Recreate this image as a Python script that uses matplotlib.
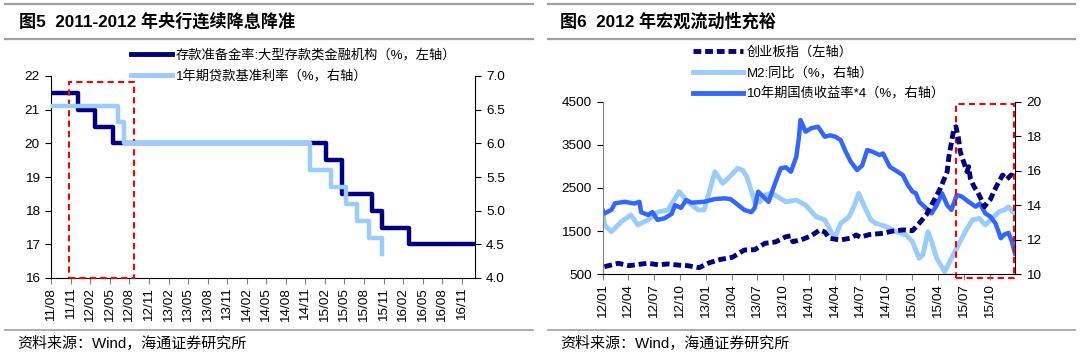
import pandas as pd
import matplotlib
matplotlib.use('Agg')
import matplotlib.pyplot as plt
import matplotlib.dates as mdates
from matplotlib.patches import Rectangle
from matplotlib.lines import Line2D

plt.rcParams['font.family'] = ['Liberation Sans', 'Noto Sans CJK SC']
plt.rcParams['axes.unicode_minus'] = False

NAVY = '#000080'
LIGHT = '#99CCFF'
BLUE = '#3366FF'
RED = '#FF0000'
GREY = '#A0A0A0'

# ---- 图5 data ----
rrr_dates = ['2011-08-01', '2011-12-05', '2012-02-24', '2012-05-18', '2015-02-05',
             '2015-04-20', '2015-09-06', '2015-10-24', '2016-03-01', '2017-01-01']
rrr_vals = [21.5, 21.0, 20.5, 20.0, 19.5, 18.5, 18.0, 17.5, 17.0, 17.0]
loan_dates = ['2011-08-01', '2012-06-08', '2012-07-06', '2014-11-22', '2015-03-01',
              '2015-05-11', '2015-06-28', '2015-08-26', '2015-10-24', '2015-10-26']
loan_vals = [6.56, 6.31, 6.00, 5.60, 5.35, 5.10, 4.85, 4.60, 4.35, 4.35]

# ---- 图6 data ----
cyb_dates = ['2012-01-07', '2012-02-25', '2012-04-04', '2012-05-07', '2012-06-10', '2012-07-16',
             '2012-08-19', '2012-09-22', '2012-10-28', '2012-12-07', '2013-01-13', '2013-02-22',
             '2013-04-04', '2013-05-16', '2013-06-22', '2013-07-28', '2013-09-04', '2013-10-10',
             '2013-10-28', '2013-11-04', '2013-12-04', '2014-01-07', '2014-02-07', '2014-02-25',
             '2014-03-13', '2014-04-22', '2014-05-28', '2014-06-16', '2014-07-01', '2014-08-01',
             '2014-09-19', '2014-10-22', '2014-12-01', '2015-01-01', '2015-01-25', '2015-02-19',
             '2015-03-16', '2015-04-10', '2015-05-04', '2015-05-10', '2015-05-28', '2015-06-04',
             '2015-06-13', '2015-06-19', '2015-07-01', '2015-07-13', '2015-07-19', '2015-07-25',
             '2015-08-07', '2015-08-19', '2015-08-25', '2015-09-13', '2015-09-22', '2015-10-04',
             '2015-10-16', '2015-10-28', '2015-11-16', '2015-12-01', '2015-12-16', '2015-12-30']
cyb_vals = [676, 755, 700, 730, 755, 720,
            740, 715, 700, 653, 770, 847,
            894, 1063, 1070, 1218, 1250, 1371,
            1390, 1255, 1300, 1390, 1526, 1480,
            1334, 1295, 1340, 1411, 1360, 1420,
            1450, 1500, 1530, 1510, 1682, 1874,
            2183, 2493, 2878, 3225, 3883, 3920,
            3652, 3342, 3110, 2878, 2994, 2725,
            2530, 2414, 2338, 2066, 2150, 2238,
            2414, 2570, 2801, 2700, 2800, 2750]

bond_dates = ['2012-01-01', '2012-01-07', '2012-02-01', '2012-02-13', '2012-03-19', '2012-04-22',
              '2012-05-10', '2012-05-16', '2012-06-10', '2012-06-25', '2012-07-13', '2012-08-07',
              '2012-09-01', '2012-09-13', '2012-10-04', '2012-10-22', '2012-11-10', '2012-12-25',
              '2013-02-01', '2013-03-07', '2013-03-28', '2013-04-10', '2013-05-16', '2013-06-10',
              '2013-06-22', '2013-07-04', '2013-08-10', '2013-09-04', '2013-09-22', '2013-10-10',
              '2013-10-28', '2013-11-16', '2013-11-25', '2013-12-01', '2013-12-19', '2014-01-07',
              '2014-02-01', '2014-02-25', '2014-03-16', '2014-04-04', '2014-04-22', '2014-05-10',
              '2014-05-28', '2014-06-19', '2014-07-07', '2014-07-25', '2014-08-13', '2014-09-07',
              '2014-09-19', '2014-10-13', '2014-11-04', '2014-11-28', '2014-12-16', '2015-01-01',
              '2015-01-13', '2015-01-25', '2015-02-19', '2015-03-10', '2015-03-28', '2015-04-16',
              '2015-05-04', '2015-05-19', '2015-06-07', '2015-06-25', '2015-07-19', '2015-08-13',
              '2015-08-28', '2015-09-16', '2015-10-04', '2015-10-22', '2015-11-10', '2015-11-22',
              '2015-12-07', '2015-12-19', '2015-12-30']
bond_vals = [13.70, 13.53, 13.73, 14.11, 14.20, 14.10,
             14.20, 13.60, 13.44, 13.60, 13.15, 13.25,
             13.50, 14.00, 13.85, 14.30, 14.15, 14.20,
             14.36, 14.40, 14.36, 14.20, 13.73, 13.60,
             13.85, 14.79, 14.20, 15.37, 16.14, 16.20,
             15.94, 16.81, 17.88, 18.94, 18.26, 18.46,
             18.55, 17.97, 18.05, 17.97, 17.78, 17.10,
             16.52, 16.04, 16.30, 17.20, 17.10, 16.91,
             17.00, 16.23, 16.00, 15.75, 15.17, 14.79,
             14.70, 14.20, 13.82, 13.53, 14.01, 14.69,
             14.00, 13.73, 14.60, 14.50, 14.20, 13.92,
             14.10, 13.53, 13.34, 12.95, 12.09, 12.30,
             12.40, 11.90, 11.20]

m2_dates = ['2012-01-01', '2012-01-07', '2012-02-01', '2012-03-07', '2012-04-10', '2012-05-04',
            '2012-06-10', '2012-07-13', '2012-08-19', '2012-09-28', '2012-10-28', '2012-12-04',
            '2012-12-25', '2013-02-01', '2013-03-01', '2013-03-28', '2013-04-22', '2013-05-10',
            '2013-05-25', '2013-06-22', '2013-07-10', '2013-07-28', '2013-08-22', '2013-10-10',
            '2013-11-16', '2013-12-19', '2014-01-25', '2014-02-25', '2014-03-13', '2014-04-01',
            '2014-04-22', '2014-05-22', '2014-06-10', '2014-06-25', '2014-07-13', '2014-08-07',
            '2014-08-25', '2014-10-01', '2014-11-04', '2014-12-10', '2015-01-01', '2015-01-25',
            '2015-02-07', '2015-02-25', '2015-03-10', '2015-03-28', '2015-04-25', '2015-05-19',
            '2015-06-13', '2015-07-07', '2015-08-01', '2015-08-25', '2015-09-16', '2015-10-10',
            '2015-11-04', '2015-11-22', '2015-12-07', '2015-12-30']
m2_vals = [13.73, 12.86, 12.47, 13.05, 13.44, 12.86,
           13.15, 13.60, 13.73, 14.79, 14.20, 13.73,
           13.73, 15.94, 15.27, 15.70, 16.14, 16.04,
           15.65, 14.20, 14.20, 14.60, 14.69, 14.20,
           14.30, 14.01, 13.34, 13.15, 12.67, 12.09,
           12.95, 13.34, 14.00, 14.69, 14.00, 13.15,
           12.95, 12.76, 12.47, 12.28, 11.89, 10.93,
           11.12, 12.47, 11.89, 10.93, 10.15, 10.93,
           11.70, 12.47, 13.15, 13.24, 12.86, 13.24,
           13.63, 13.73, 13.90, 13.50]

fig = plt.figure(figsize=(10.8, 3.59), dpi=100)
W, H = 1080.0, 359.0


def px_axes(x0, x1, y0, y1):
    return fig.add_axes([x0 / W, 1 - y1 / H, (x1 - x0) / W, (y1 - y0) / H])


def style(ax, axr, left_spine_col):
    for a in (ax, axr):
        a.spines['top'].set_visible(False)
    ax.spines['left'].set_color(left_spine_col)
    axr.spines['left'].set_visible(False)
    ax.spines['right'].set_visible(False)
    axr.spines['right'].set_color('black')
    axr.spines['bottom'].set_visible(False)
    ax.spines['bottom'].set_color('black')
    ax.tick_params(axis='y', direction='out', length=4, width=0.8, labelsize=9.7, pad=4, colors='black')
    axr.tick_params(axis='y', direction='out', length=4, width=0.8, labelsize=9.7, pad=4, colors='black')
    ax.tick_params(axis='x', direction='out', length=4, width=0.8, labelsize=9.7, pad=3,
                   color='#808080', labelrotation=90)


# ---------------- 图5 ----------------
ax1 = px_axes(51, 475, 76, 278)
ax1r = ax1.twinx()
ax1.plot(pd.to_datetime(rrr_dates), rrr_vals, drawstyle='steps-post', color=NAVY, lw=3.2)
ax1r.plot(pd.to_datetime(loan_dates), loan_vals, drawstyle='steps-post', color=LIGHT, lw=3.2)
ax1.set_ylim(16, 22)
ax1r.set_ylim(4.0, 7.0)
ax1.set_yticks(range(16, 23))
ax1r.set_yticks([4.0, 4.5, 5.0, 5.5, 6.0, 6.5, 7.0])
ax1r.yaxis.set_major_formatter(plt.FormatStrFormatter('%.1f'))
ax1.set_xlim(pd.Timestamp('2011-08-01'), pd.Timestamp('2017-01-01'))
ticks1 = pd.date_range('2011-08-01', '2016-11-01', freq='3MS')
ax1.set_xticks(ticks1)
ax1.set_xticklabels([d.strftime('%y/%m') for d in ticks1])
style(ax1, ax1r, 'black')

x0 = mdates.date2num(pd.Timestamp('2011-10-25'))
x1 = mdates.date2num(pd.Timestamp('2012-08-24'))
ax1.add_patch(Rectangle((x0, 16), x1 - x0, 5.83, fill=False, edgecolor=RED, lw=1.5,
                        ls=(0, (3, 2)), clip_on=False, zorder=5))

h1 = [Line2D([], [], color=NAVY, lw=3.5), Line2D([], [], color=LIGHT, lw=3.5)]
fig.legend(h1, ['存款准备金率:大型存款类金融机构（%，左轴）', '1年期贷款基准利率（%，右轴）'],
           loc='upper left', bbox_to_anchor=(131 / W, 1 - 49 / H), frameon=False, fontsize=9.5,
           handlelength=3.1, handletextpad=0.3, labelspacing=0.62, borderpad=0, borderaxespad=0)

# ---------------- 图6 ----------------
ax2 = px_axes(602.7, 1015, 101.7, 274.3)
ax2r = ax2.twinx()
ax2r.plot(pd.to_datetime(m2_dates), m2_vals, color=LIGHT, lw=3.5, solid_joinstyle='round',
          solid_capstyle='round')
ax2r.plot(pd.to_datetime(bond_dates), bond_vals, color=BLUE, lw=3.2)
ax2.plot(pd.to_datetime(cyb_dates), cyb_vals, color=NAVY, lw=3.5, ls=(0, (1.6, 0.8)))
ax2.set_zorder(ax2r.get_zorder() + 1)
ax2.patch.set_visible(False)
ax2.set_ylim(500, 4500)
ax2.set_yticks([500, 1500, 2500, 3500, 4500])
ax2r.set_ylim(10, 20)
ax2r.set_yticks([10, 12, 14, 16, 18, 20])
ax2.set_xlim(pd.Timestamp('2012-01-01'), pd.Timestamp('2015-12-30'))
ticks2 = pd.date_range('2012-01-01', '2015-10-01', freq='3MS')
ax2.set_xticks(ticks2)
ax2.set_xticklabels([d.strftime('%y/%m') for d in ticks2])
style(ax2, ax2r, '#808080')

x0 = mdates.date2num(pd.Timestamp('2015-06-04'))
x1 = mdates.date2num(pd.Timestamp('2015-12-27'))
ax2r.add_patch(Rectangle((x0, 9.8), x1 - x0, 10.05, fill=False, edgecolor=RED, lw=1.5,
                         ls=(0, (3, 2)), clip_on=False, zorder=5))

h2 = [Line2D([], [], color=NAVY, lw=3.5, ls=(0, (1.6, 0.8))),
      Line2D([], [], color=LIGHT, lw=3.5), Line2D([], [], color=BLUE, lw=3.5)]
fig.legend(h2, ['创业板指（左轴）', 'M2:同比（%，右轴）', '10年期国债收益率*4（%，右轴）'],
           loc='upper left', bbox_to_anchor=(693 / W, 1 - 46 / H), frameon=False, fontsize=9.5,
           handlelength=3.8, handletextpad=0.3, labelspacing=0.62, borderpad=0, borderaxespad=0)

# ---------------- titles, rules, sources ----------------
for xa, xb in [(5, 533), (548, 1075)]:
    for y, lw in [(3.5, 1.6), (38.5, 1.6), (330, 1.2)]:
        fig.add_artist(Line2D([xa / W, xb / W], [1 - y / H, 1 - y / H], color=GREY, lw=lw))

fig.text(19 / W, 1 - 21 / H, '图5  2011-2012 年央行连续降息降准', fontsize=12.3, fontweight='bold',
         va='center', ha='left')
fig.text(560 / W, 1 - 21 / H, '图6  2012 年宏观流动性充裕', fontsize=12.3, fontweight='bold',
         va='center', ha='left')
fig.text(17 / W, 1 - 344 / H, '资料来源：Wind，海通证券研究所', fontsize=10.8, va='center', ha='left')
fig.text(560 / W, 1 - 344 / H, '资料来源：Wind，海通证券研究所', fontsize=10.8, va='center', ha='left')

fig.savefig('out.png', dpi=100)
